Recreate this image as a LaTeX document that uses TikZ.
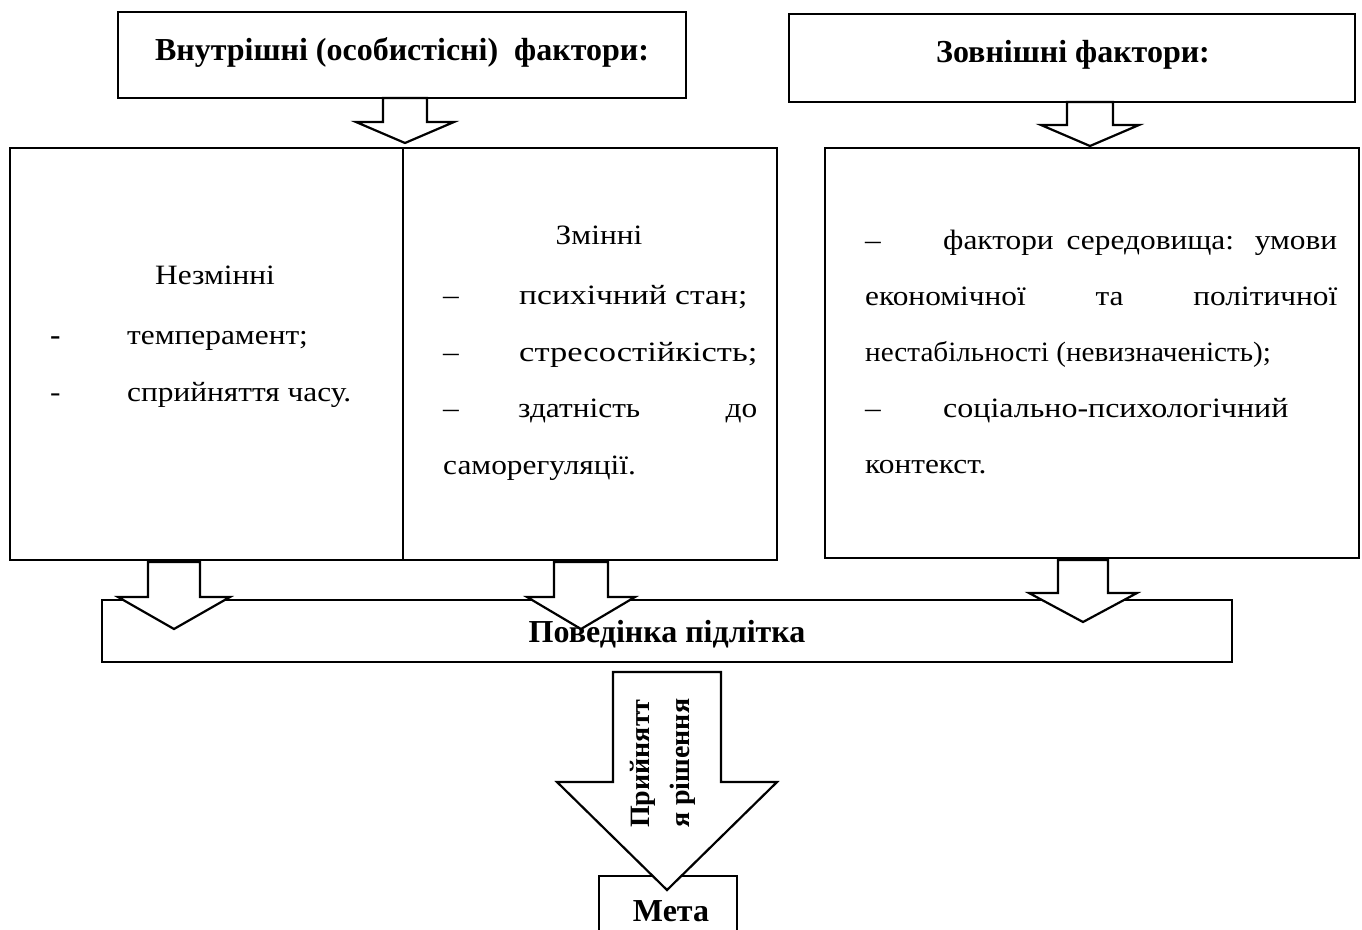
\documentclass[tikz,border=0pt]{standalone}
\usepackage{fontspec}
\usepackage{graphicx}
\setmainfont[FakeStretch=1.12]{Liberation Serif}
\newfontfamily\hfont{Liberation Serif}
\begin{document}
\begin{tikzpicture}[x=1pt,y=-1pt,
  box/.style={draw,line width=2.8pt,line join=miter},
  thinbox/.style={draw,line width=2pt},
  blk/.style={draw,line width=2.2pt,fill=white,line join=miter},
  txt/.style={font=\fontsize{28}{28}\selectfont,anchor=base west,inner sep=0pt},
  hdr/.style={font=\hfont\fontsize{32}{32}\selectfont\bfseries,anchor=base,inner sep=0pt},
  rot/.style={font=\hfont\fontsize{28}{28}\selectfont\bfseries,rotate=90,anchor=base west,inner sep=0pt}
]
\useasboundingbox (0,0) rectangle (1362,929);
\newcommand\barrow[6]{%
  \draw[blk] (#1-#3,#2) -- (#1-#3,#4) -- (#1-#5,#4) -- (#1,#6) -- (#1+#5,#4) -- (#1+#3,#4) -- (#1+#3,#2) -- cycle;}

% boxes
\draw[box] (118,12) rectangle (686,98);
\draw[box] (789,14) rectangle (1355,102);
\draw[box] (10,148) rectangle (777,560);
\draw[thinbox] (403,148) -- (403,560);
\draw[box] (825,148) rectangle (1359,558);
\draw[thinbox] (102,600) rectangle (1232,662);
\draw[box] (599,940) -- (599,876) -- (737,876) -- (737,940);

% headers
\node[hdr] (hin) at (402,60) {Внутрішні (особистісні)\ \ фактори:};
\node[hdr] (hout) at (1073,62) {Зовнішні фактори:};
\node[hdr] (beh) at (667,642) {Поведінка підлітка};
\node[hdr] (goal) at (671,921) {Мета};

% arrows
\barrow{405}{98}{22}{122}{49}{143}
\barrow{1090}{102}{23}{125}{49}{146}
\barrow{174}{562}{26}{597}{56}{629}
\barrow{581}{562}{27}{597}{54}{629}
\barrow{1083}{560}{25}{593}{54}{622}
\barrow{667}{672}{54}{782}{110}{890}

% rotated text in big arrow
\node[rot] (dec1) at (649,828) {Прийнятт};
\node[rot] (dec2) at (689,828) {я рішення};

% left column
\node[txt,anchor=base] (nz) at (215,284) {Незмінні};
\node[txt] (d1) at (50,344) {\textbf{-}};
\node[txt] (t1) at (127,344) {темперамент;};
\node[txt] (d2) at (50,401) {-};
\node[txt] (t2) at (127,401) {сприйняття часу.};

% middle column
\node[txt,anchor=base] (zm) at (599,244) {Змінні};
\node[txt] (m1d) at (443,304) {–};
\node[txt] (m1) at (519,304) {\scalebox{1.07}[1]{психічний стан;}};
\node[txt] (m2d) at (443,361) {–};
\node[txt] (m2) at (519,361) {\scalebox{1.1}[1]{стресостійкість;}};
\node[txt] (m3d) at (443,417) {–};
\node[txt] (m3) at (518,417) {\makebox[239pt][s]{здатність до}};
\node[txt] (m4) at (443,474) {саморегуляції.};

% right column
\node[txt] (r1d) at (865,249) {–};
\node[txt] (r1) at (943,249) {\makebox[394pt][s]{фактори середовища: умови}};
\node[txt] (r2) at (865,305) {\makebox[472pt][s]{економічної та політичної}};
\node[txt] (r3) at (865,361) {\scalebox{0.93}[1]{нестабільності (невизначеність);}};
\node[txt] (r4d) at (865,417) {–};
\node[txt] (r4) at (943,417) {\scalebox{1.02}[1]{соціально-психологічний}};
\node[txt] (r5) at (865,473) {контекст.};
\end{tikzpicture}
\end{document}
